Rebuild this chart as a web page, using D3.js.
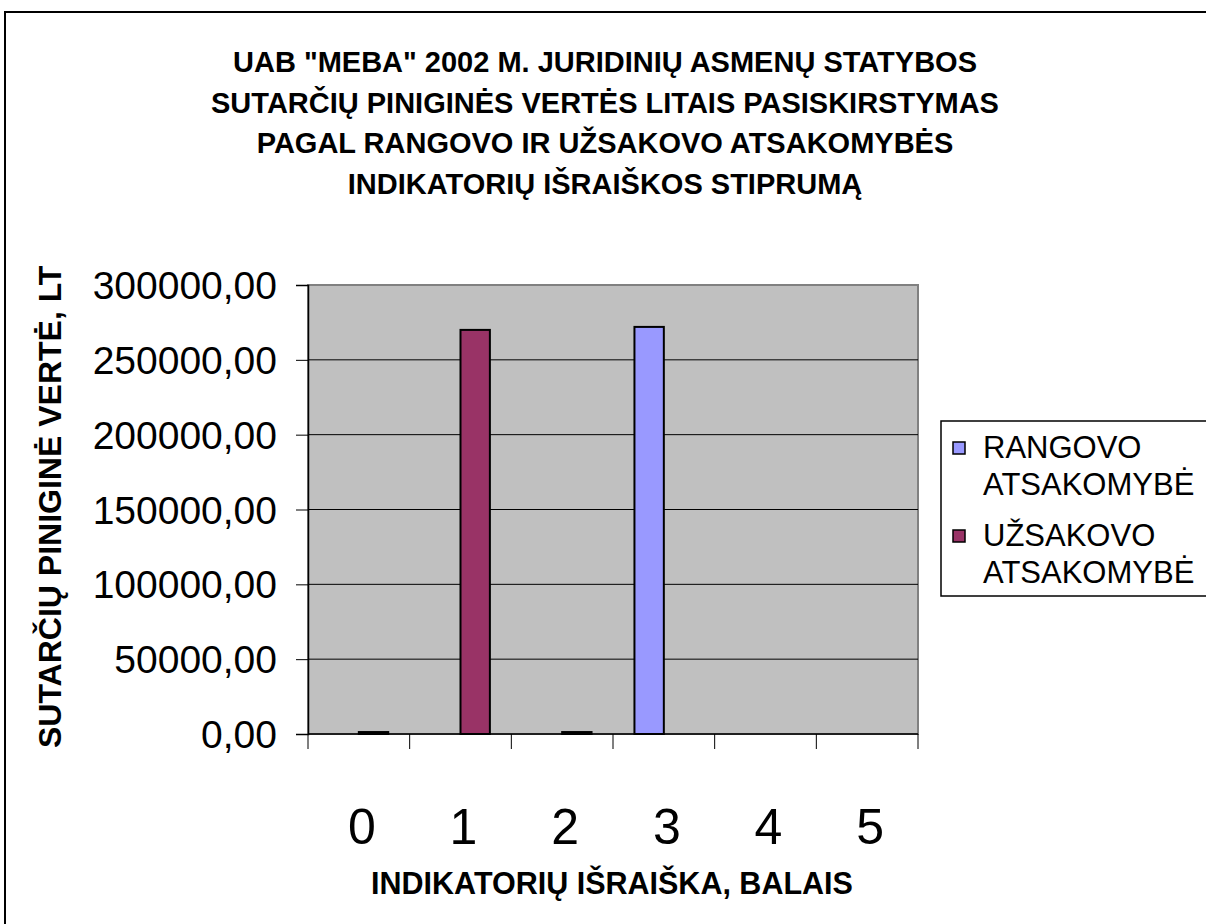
<!DOCTYPE html>
<html>
<head>
<meta charset="utf-8">
<script src="https://cdn.jsdelivr.net/npm/d3@7"></script>
<style>
  body { margin: 0; background: #fff; }
  text { font-family: "Liberation Sans", Arial, sans-serif; fill: #000; }
</style>
</head>
<body>
<svg width="1206" height="924"></svg>
<script>
// data
const categories = ["0", "1", "2", "3", "4", "5"];
const seriesNames = ["RANGOVO ATSAKOMYBĖ", "UŽSAKOVO ATSAKOMYBĖ"];
const rangovo = [0, 0, 0, 272000, 0, 0];
const uzsakovo = [1300, 270000, 1300, 0, 0, 0];
const yTicks = [0, 50000, 100000, 150000, 200000, 250000, 300000];
const titleLines = [
  'UAB "MEBA" 2002 M. JURIDINIŲ ASMENŲ STATYBOS',
  "SUTARČIŲ PINIGINĖS VERTĖS LITAIS PASISKIRSTYMAS",
  "PAGAL RANGOVO IR UŽSAKOVO ATSAKOMYBĖS",
  "INDIKATORIŲ IŠRAIŠKOS STIPRUMĄ"
];
const colors = ["#9999FF", "#993366"];

var svg = d3.select("svg");

// outer chart border
svg.append("rect")
    .attr("x", 5).attr("y", 12)
    .attr("width", 1220).attr("height", 930)
    .attr("fill", "#fff").attr("stroke", "#000").attr("stroke-width", 2);

var plotLeft = 308, plotTop = 285, width = 610, height = 449;

var x = d3.scaleBand().domain(categories).range([0, width]);
var x1 = d3.scaleBand().domain(seriesNames).range([0, x.bandwidth()]).paddingOuter(0.73);
var y = d3.scaleLinear().domain([0, 300000]).range([height, 0]);

var g = svg.append("g").attr("transform", "translate(" + plotLeft + "," + plotTop + ")");

g.append("rect")
    .attr("width", width).attr("height", height)
    .attr("fill", "#C0C0C0").attr("stroke", "#808080").attr("stroke-width", 2);

// gridlines
g.selectAll(".grid").data(yTicks.slice(1, -1)).enter().append("line")
    .attr("x1", 0).attr("x2", width)
    .attr("y1", function (d) { return y(d); }).attr("y2", function (d) { return y(d); })
    .attr("stroke", "#000").attr("stroke-width", 1);

// bars
var rows = categories.map(function (c, i) {
  return { cat: c, values: [rangovo[i], uzsakovo[i]] };
});
g.selectAll(".grp").data(rows).enter().append("g")
    .attr("transform", function (d) { return "translate(" + x(d.cat) + ",0)"; })
  .selectAll("rect").data(function (d) {
    return d.values.map(function (v, j) { return { s: seriesNames[j], v: v, j: j }; })
      .filter(function (e) { return e.v > 0; });
  }).enter().append("rect")
    .attr("x", function (d) { return x1(d.s); })
    .attr("y", function (d) { return y(d.v); })
    .attr("width", x1.bandwidth())
    .attr("height", function (d) { return height - y(d.v); })
    .attr("fill", function (d) { return colors[d.j]; })
    .attr("stroke", "#000").attr("stroke-width", 2);

// y axis
var yAxis = g.append("g")
    .call(d3.axisLeft(y).tickValues(yTicks).tickSize(12).tickPadding(19)
      .tickFormat(function (d) { return d3.format(".2f")(d).replace(".", ","); }));
yAxis.select(".domain").attr("stroke", "#000").attr("stroke-width", 1.5);
yAxis.selectAll("line").attr("stroke", "#000");
yAxis.selectAll("text").attr("font-size", 39).attr("dy", "0.35em");

// x axis
var xAxis = g.append("g").attr("transform", "translate(0," + height + ")");
xAxis.append("line").attr("x1", 0).attr("x2", width).attr("stroke", "#000").attr("stroke-width", 1.5);
xAxis.selectAll(".tk").data(d3.range(categories.length + 1)).enter().append("line")
    .attr("x1", function (i) { return i * x.step(); }).attr("x2", function (i) { return i * x.step(); })
    .attr("y1", 0).attr("y2", 15).attr("stroke", "#000");
xAxis.selectAll(".lbl").data(categories).enter().append("text")
    .attr("x", function (d) { return x(d) + x.bandwidth() / 2 + 3; })
    .attr("y", 110)
    .attr("text-anchor", "middle")
    .attr("font-size", 50)
    .text(function (d) { return d; });

// title
svg.selectAll(".title").data(titleLines).enter().append("text")
    .attr("x", 605).attr("y", function (d, i) { return 72 + i * 40.5; })
    .attr("text-anchor", "middle").attr("font-size", 29).attr("font-weight", "bold")
    .text(function (d) { return d; });

svg.append("text")
    .attr("x", 612).attr("y", 894)
    .attr("text-anchor", "middle").attr("font-size", 30.5).attr("font-weight", "bold")
    .text("INDIKATORIŲ IŠRAIŠKA, BALAIS");

// y title, clipped at the top like the original
svg.append("clipPath").attr("id", "yclip")
  .append("rect").attr("x", 0).attr("y", 262).attr("width", 120).attr("height", 600);
svg.append("g").attr("clip-path", "url(#yclip)")
  .append("text")
    .attr("transform", "translate(61,748) rotate(-90)")
    .attr("text-anchor", "start").attr("font-size", 32).attr("font-weight", "bold")
    .text("SUTARČIŲ PINIGINĖ VERTĖ, LT");

// legend
var lg = svg.append("g").attr("transform", "translate(941,421)");
lg.append("rect").attr("width", 280).attr("height", 175)
    .attr("fill", "#fff").attr("stroke", "#000").attr("stroke-width", 1.5);
var items = lg.selectAll(".item").data(seriesNames).enter().append("g")
    .attr("transform", function (d, i) { return "translate(0," + (i * 88) + ")"; });
items.append("rect")
    .attr("x", 12).attr("y", 21).attr("width", 12).attr("height", 12)
    .attr("fill", function (d, i) { return colors[i]; })
    .attr("stroke", "#000").attr("stroke-width", 1.5);
items.selectAll("text").data(function (d) { return d.split(" "); }).enter().append("text")
    .attr("x", 42).attr("y", function (d, i) { return 37 + i * 37; })
    .attr("font-size", 31)
    .text(function (d) { return d; });
</script>
</body>
</html>
